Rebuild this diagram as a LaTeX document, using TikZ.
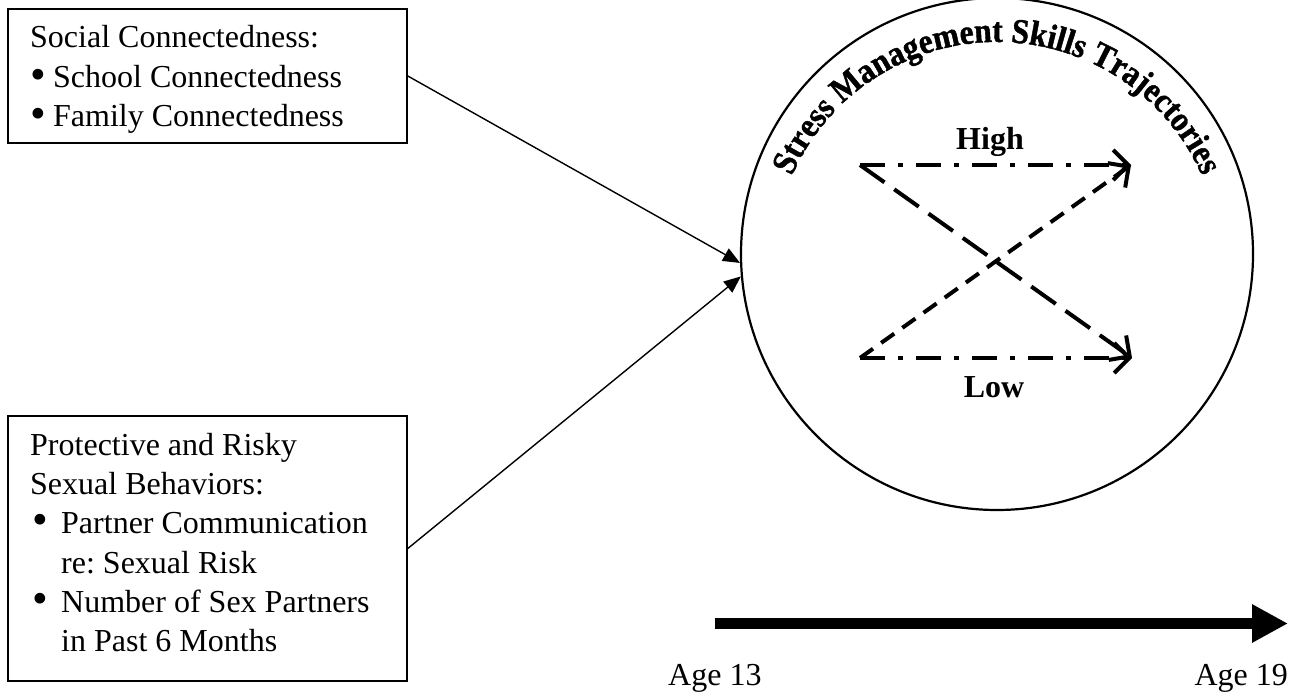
\documentclass[tikz,border=0pt]{standalone}
\usepackage{fontspec}
\setmainfont{Liberation Serif}
\newfontfamily\titlefont[FakeStretch=0.9,FakeBold=1.2]{Liberation Serif}
\usetikzlibrary{arrows.meta,decorations.text}
\newcommand{\bul}{\raisebox{-0.05em}{\scalebox{1.4}{\textbullet}}}
\begin{document}
\frenchspacing
\begin{tikzpicture}[x=1pt,y=1pt,
  infobox/.style={draw, line width=1.6pt, rectangle, inner sep=0pt},
  bodytext/.style={inner sep=0pt, font=\fontsize{32}{40}\selectfont},
  boldtext/.style={inner sep=0pt, font=\fontsize{32}{40}\selectfont\bfseries},
  conn/.style={line width=1.4pt, -{Triangle[length=17pt,width=14pt]}},
  traj/.style={line width=4pt, -{Straight Barb[length=15pt,width=30pt]}},
  dashdot/.style={dash pattern=on 25pt off 13pt on 5pt off 13pt},
  longdash/.style={dash pattern=on 30pt off 12pt},
  shortdash/.style={dash pattern=on 16pt off 10pt},
]
\useasboundingbox (0,0) rectangle (1293,697);

% predictor boxes
\node[infobox, minimum width=399pt, minimum height=134pt] (social) at (207.5,621) {};
\node[infobox, minimum width=399pt, minimum height=265pt] (sexual) at (207.5,148.5) {};

\node[bodytext, anchor=base west] (s1) at (30,649) {Social Connectedness:};
\node[bodytext, anchor=base west] (s2) at (30,609) {\makebox[23pt][l]{\bul}School Connectedness};
\node[bodytext, anchor=base west] (s3) at (30,570) {\makebox[23pt][l]{\bul}Family Connectedness};

\node[bodytext, anchor=base west] (p1) at (30,242) {Protective and Risky};
\node[bodytext, anchor=base west] (p2) at (30,203) {Sexual Behaviors:};
\node[bodytext, anchor=base west] (p3) at (30,164) {\makebox[31pt][l]{\hspace{2pt}\bul}Partner Communication};
\node[bodytext, anchor=base west] (p4) at (61,124) {re: Sexual Risk};
\node[bodytext, anchor=base west] (p5) at (30,85) {\makebox[31pt][l]{\hspace{2pt}\bul}Number of Sex Partners};
\node[bodytext, anchor=base west] (p6) at (61,46) {in Past 6 Months};

% outcome circle
\node[circle, draw, line width=2.2pt, minimum size=512pt, inner sep=0pt] (traj) at (997,443) {};

\path[decorate, decoration={text along path, text align=center,
    text={|\titlefont\fontsize{35}{35}\selectfont\bfseries|Stress Management Skills Trajectories}}]
  ([shift={(997,431)}]162:224pt) arc[start angle=162, end angle=18, radius=224pt];

% trajectories
\coordinate (hs) at (860,532);
\coordinate (he) at (1131,532);
\coordinate (ls) at (860,339);
\coordinate (le) at (1132,339);
\draw[traj, dashdot] (hs) -- (he);
\draw[traj, longdash] (hs) -- (le);
\draw[traj, shortdash] (ls) -- (he);
\draw[traj, dashdot] (ls) -- (le);

\node[boldtext, anchor=base] (high) at (990,547) {High};
\node[boldtext, anchor=base] (low) at (994,299) {Low};

% predictor paths
\draw[conn] (social.east) -- (traj.182);
\draw[conn] (sexual.east) -- (traj.185);

% time axis
\coordinate (t0) at (715,73.5);
\coordinate (t1) at (1288,73.5);
\draw[line width=11pt, -{Triangle[length=36pt,width=36pt]}] (t0) -- (t1);
\node[bodytext, anchor=base west] (a13) at (668,12) {Age 13};
\node[bodytext, anchor=base east] (a19) at (1288,12) {Age 19};
\end{tikzpicture}
\end{document}
